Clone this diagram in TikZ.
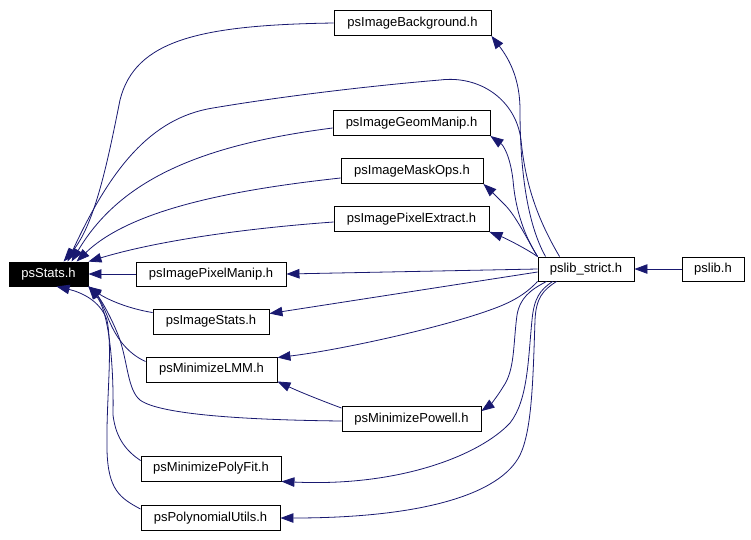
\documentclass[tikz,border=0pt]{standalone}
\usepackage{fontspec}
\setmainfont{Liberation Sans}
\usetikzlibrary{arrows.meta,calc}
\definecolor{edgeblue}{RGB}{25,25,112}
\begin{document}
\begin{tikzpicture}[x=1pt,y=-1pt,
  box/.style={draw=black, line width=0.9pt, rectangle, minimum height=25pt, inner sep=0pt,
    font=\fontsize{13}{15}\selectfont, fill=white},
  rootbox/.style={box, fill=black, text=white},
  edge/.style={draw=edgeblue, line width=0.8pt, -{Triangle[length=13pt,width=9.5pt]}}
]
\useasboundingbox (0,0) rectangle (751,539);

% nodes
\node[rootbox, minimum width=79pt, minimum height=24pt] (stats) at (48.5,274) {psStats.h};
\node[box, minimum width=150pt, minimum height=24pt] (pixmanip) at (211,274) {psImagePixelManip.h};
\node[box, minimum width=116pt] (imgstats) at (211,321.5) {psImageStats.h};
\node[box, minimum width=131pt] (lmm) at (211.5,369.5) {psMinimizeLMM.h};
\node[box, minimum width=140pt] (polyfit) at (211,468.5) {psMinimizePolyFit.h};
\node[box, minimum width=139pt] (polyutils) at (210.5,518) {psPolynomialUtils.h};
\node[box, minimum width=139pt] (powell) at (411.5,419) {psMinimizePowell.h};
\node[box, minimum width=157pt] (bg) at (412.5,23) {psImageBackground.h};
\node[box, minimum width=157pt] (geom) at (411.5,123) {psImageGeomManip.h};
\node[box, minimum width=142pt] (mask) at (412,171) {psImageMaskOps.h};
\node[box, minimum width=155pt] (extract) at (411.5,219) {psImagePixelExtract.h};
\node[box, minimum width=96pt, minimum height=24pt] (strict) at (586,269) {pslib\_strict.h};
\node[box, minimum width=62pt, minimum height=24pt] (pslib) at (713,269) {pslib.h};

% pslib -> pslib_strict
\draw[edge] (pslib.west) -- (strict.east);

% pslib_strict -> headers
\draw[edge] ($(strict.north west)+(8,0)$) .. controls (525,220) and (520,160) .. (520,110)
  .. controls (520,80) and (510,60) .. (bg.south east);
\draw[edge] (strict.north west) .. controls (522,232) and (515,205) .. (513,180)
  .. controls (510,155) and (503,145) .. (geom.south east);
\draw[edge] (strict.north west) .. controls (525,235) and (515,215) .. (505,205)
  .. controls (497,197) and (490,190) .. (mask.south east);
\draw[edge] (strict.north west) .. controls (525,248) and (505,238) .. (extract.south east);
\draw[edge] (strict.west) -- (pixmanip.east);
\draw[edge] ($(strict.west)+(0,3)$) -- ($(imgstats.north east)+(0,5)$);
\draw[edge] (strict.south west) .. controls (525,295) and (510,303) .. (490,310)
  .. controls (440,328) and (340,350) .. ($(lmm.north east)+(0,1)$);
\draw[edge] ($(strict.south west)+(9,0)$) .. controls (530,290) and (520,298) .. (517,315)
  .. controls (513,345) and (515,370) .. (503,387)
  .. controls (497,397) and (490,405) .. ($(powell.north east)+(0,5)$);
\draw[edge] ($(strict.south west)+(15,0)$) .. controls (540,290) and (534,298) .. (532,320)
  .. controls (528,360) and (528,400) .. (510,423)
  .. controls (480,455) and (400,487) .. (polyfit.south east);
\draw[edge] ($(strict.south west)+(19,0)$) .. controls (543,290) and (536,298) .. (535,320)
  .. controls (533,380) and (532,430) .. (520,455)
  .. controls (500,495) and (420,518) .. (polyutils.east);
% pslib_strict -> psStats (big curve over the top)
\draw[edge] ($(strict.north west)+(22,0)$) .. controls (535,215) and (525,180) .. (521,140)
  .. controls (516,100) and (480,75) .. (440,80)
  .. controls (380,85) and (290,95) .. (213,108)
  .. controls (150,118) and (110,170) .. ($(stats.north west)+(59,0)$);

% powell -> lmm
\draw[edge] ($(powell.north west)+(0,2)$) .. controls (320,400) and (300,392) .. ($(lmm.south east)+(0,-1)$);

% headers -> psStats
\draw[edge] (bg.west) .. controls (200,25) and (135,40) .. (120,100)
  .. controls (108,160) and (95,225) .. ($(stats.north west)+(55,0)$);
\draw[edge] ($(geom.west)+(0,5)$) .. controls (200,145) and (120,180) .. ($(stats.north west)+(63,0)$);
\draw[edge] ($(mask.west)+(0,7)$) .. controls (230,190) and (130,210) .. ($(stats.north west)+(68,0)$);
\draw[edge] ($(extract.west)+(0,3)$) .. controls (250,228) and (160,240) .. (stats.north east);
\draw[edge] (pixmanip.west) -- (stats.east);
\draw[edge] ($(imgstats.north west)+(0,4)$) .. controls (125,308) and (105,298) .. (stats.south east);
\draw[edge] ($(lmm.north west)+(0,5)$) .. controls (125,352) and (115,335) .. (108,318)
  .. controls (102,302) and (95,292) .. (stats.south east);
\draw[edge] ($(powell.west)+(0,2)$) .. controls (250,420) and (160,415) .. (140,400)
  .. controls (128,390) and (128,365) .. (120,340)
  .. controls (112,318) and (100,298) .. (stats.south east);
\draw[edge] ($(polyfit.north west)+(0,5)$) .. controls (128,452) and (116,440) .. (113,415)
  .. controls (114,360) and (108,310) .. (stats.south east);
\draw[edge] ($(polyutils.north west)+(0,4)$) .. controls (120,498) and (108,490) .. (107,450)
  .. controls (106,400) and (113,350) .. (107,320)
  .. controls (100,300) and (80,292) .. ($(stats.south west)+(48,0)$);
\end{tikzpicture}
\end{document}
